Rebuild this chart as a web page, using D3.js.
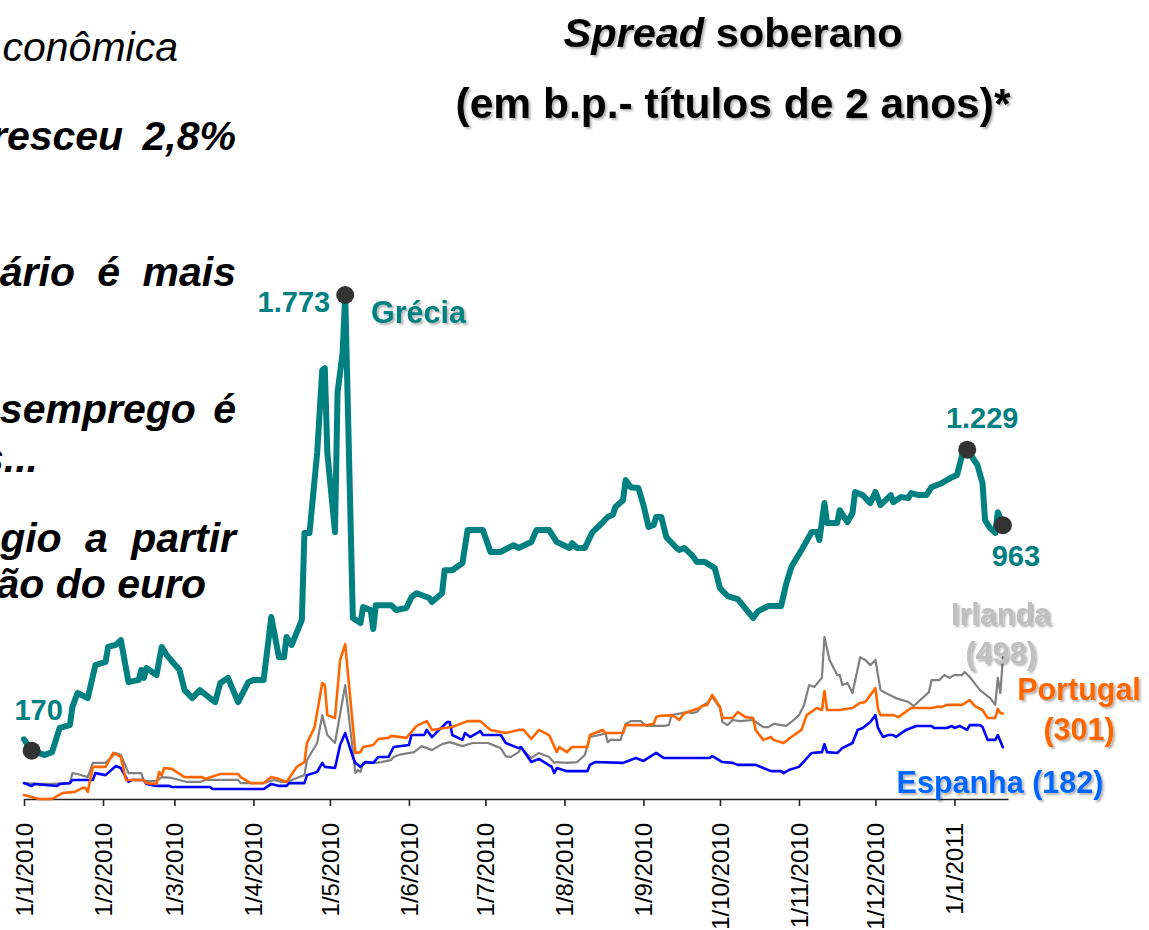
<!DOCTYPE html>
<html>
<head>
<meta charset="utf-8">
<script src="https://cdn.jsdelivr.net/npm/d3@7"></script>
<style>
  body { margin: 0; background: #fff; }
  svg { display: block; font-family: "Liberation Sans", Arial, sans-serif; }
</style>
</head>
<body>
<div id="chart"></div>
<script>
// Spread soberano (b.p., titulos de 2 anos)
const grecia = [
  ["2010-01-01", 210], ["2010-01-04", 170], ["2010-01-09", 155], ["2010-01-12", 165], ["2010-01-15", 250],
  ["2010-01-19", 260], ["2010-01-20", 324], ["2010-01-22", 373], ["2010-01-26", 355], ["2010-01-29", 471],
  ["2010-02-02", 482], ["2010-02-03", 535], ["2010-02-06", 542], ["2010-02-08", 559], ["2010-02-11", 411],
  ["2010-02-15", 419], ["2010-02-16", 454], ["2010-02-17", 426], ["2010-02-18", 461], ["2010-02-22", 436],
  ["2010-02-24", 535], ["2010-02-26", 506], ["2010-03-03", 454], ["2010-03-05", 383], ["2010-03-08", 355],
  ["2010-03-11", 383], ["2010-03-17", 341], ["2010-03-19", 408], ["2010-03-22", 426], ["2010-03-26", 341],
  ["2010-03-30", 411], ["2010-04-01", 419], ["2010-04-05", 419], ["2010-04-08", 640], ["2010-04-11", 499],
  ["2010-04-13", 499], ["2010-04-14", 570], ["2010-04-16", 542], ["2010-04-20", 630], ["2010-04-21", 936],
  ["2010-04-23", 936], ["2010-04-26", 1217], ["2010-04-28", 1509], ["2010-04-29", 1516], ["2010-04-30", 1217],
  ["2010-05-03", 939], ["2010-05-04", 1430], ["2010-05-05", 1500], ["2010-05-06", 1570], ["2010-05-07", 1773],
  ["2010-05-10", 637], ["2010-05-13", 619], ["2010-05-14", 675], ["2010-05-17", 665], ["2010-05-18", 598],
  ["2010-05-19", 682], ["2010-05-25", 682], ["2010-05-27", 665], ["2010-05-31", 672], ["2010-06-02", 710],
  ["2010-06-04", 724], ["2010-06-09", 707], ["2010-06-10", 693], ["2010-06-14", 724], ["2010-06-15", 805],
  ["2010-06-18", 805], ["2010-06-22", 830], ["2010-06-24", 946], ["2010-06-30", 946], ["2010-07-03", 869],
  ["2010-07-07", 869], ["2010-07-12", 893], ["2010-07-14", 883], ["2010-07-19", 904], ["2010-07-21", 946],
  ["2010-07-26", 946], ["2010-07-29", 904], ["2010-08-03", 883], ["2010-08-04", 900], ["2010-08-06", 883],
  ["2010-08-09", 883], ["2010-08-12", 939], ["2010-08-15", 964], ["2010-08-18", 992], ["2010-08-20", 1000],
  ["2010-08-21", 1027], ["2010-08-24", 1051], ["2010-08-25", 1122], ["2010-08-27", 1097], ["2010-08-30", 1094],
  ["2010-09-01", 1034], ["2010-09-03", 957], ["2010-09-05", 964], ["2010-09-06", 992], ["2010-09-08", 992],
  ["2010-09-10", 921], ["2010-09-14", 883], ["2010-09-15", 876], ["2010-09-17", 883], ["2010-09-20", 858],
  ["2010-09-22", 834], ["2010-09-25", 834], ["2010-09-29", 812], ["2010-10-01", 742], ["2010-10-04", 714],
  ["2010-10-08", 703], ["2010-10-14", 637], ["2010-10-16", 661], ["2010-10-20", 679], ["2010-10-25", 679],
  ["2010-10-27", 757], ["2010-10-29", 816], ["2010-11-02", 876], ["2010-11-06", 939], ["2010-11-08", 939],
  ["2010-11-09", 911], ["2010-11-11", 1041], ["2010-11-12", 971], ["2010-11-16", 971], ["2010-11-17", 1016],
  ["2010-11-20", 974], ["2010-11-22", 1006], ["2010-11-23", 1080], ["2010-11-26", 1069], ["2010-11-29", 1041],
  ["2010-12-01", 1080], ["2010-12-03", 1034], ["2010-12-07", 1069], ["2010-12-08", 1044], ["2010-12-11", 1062],
  ["2010-12-14", 1059], ["2010-12-15", 1076], ["2010-12-18", 1069], ["2010-12-21", 1069], ["2010-12-23", 1097],
  ["2010-12-27", 1111], ["2010-12-31", 1132], ["2011-01-02", 1140], ["2011-01-04", 1210], ["2011-01-06", 1229],
  ["2011-01-10", 1175], ["2011-01-12", 1111], ["2011-01-13", 981], ["2011-01-15", 953], ["2011-01-17", 936],
  ["2011-01-18", 1009], ["2011-01-20", 963]
];

const irlanda = [
  ["2010-01-01", 56], ["2010-01-07", 53], ["2010-01-12", 53], ["2010-01-19", 56], ["2010-01-20", 91],
  ["2010-01-22", 88], ["2010-01-26", 77], ["2010-01-28", 127], ["2010-02-02", 127], ["2010-02-06", 162],
  ["2010-02-08", 155], ["2010-02-11", 91], ["2010-02-16", 91], ["2010-02-17", 63], ["2010-02-22", 63],
  ["2010-02-24", 77], ["2010-02-28", 74], ["2010-03-06", 60], ["2010-03-11", 60], ["2010-03-13", 67],
  ["2010-03-26", 67], ["2010-03-27", 56], ["2010-04-05", 56], ["2010-04-09", 67], ["2010-04-12", 60],
  ["2010-04-14", 60], ["2010-04-18", 74], ["2010-04-21", 84], ["2010-04-22", 137], ["2010-04-26", 197],
  ["2010-04-28", 295], ["2010-04-30", 225], ["2010-05-03", 197], ["2010-05-07", 401], ["2010-05-11", 91],
  ["2010-05-12", 102], ["2010-05-13", 95], ["2010-05-14", 127], ["2010-05-19", 127], ["2010-05-21", 130],
  ["2010-05-25", 137], ["2010-05-26", 148], ["2010-05-28", 155], ["2010-06-03", 165], ["2010-06-06", 186],
  ["2010-06-10", 172], ["2010-06-14", 193], ["2010-06-17", 200], ["2010-06-22", 186], ["2010-06-26", 197],
  ["2010-07-02", 197], ["2010-07-07", 179], ["2010-07-09", 150], ["2010-07-11", 148], ["2010-07-14", 165],
  ["2010-07-15", 179], ["2010-07-19", 144], ["2010-07-22", 162], ["2010-07-26", 148], ["2010-07-28", 127],
  ["2010-07-29", 130], ["2010-08-02", 127], ["2010-08-06", 130], ["2010-08-09", 155], ["2010-08-11", 218],
  ["2010-08-15", 225], ["2010-08-17", 232], ["2010-08-18", 200], ["2010-08-19", 208], ["2010-08-23", 208],
  ["2010-08-25", 264], ["2010-08-27", 274], ["2010-08-31", 274], ["2010-09-02", 257], ["2010-09-09", 257],
  ["2010-09-11", 260], ["2010-09-12", 295], ["2010-09-16", 302], ["2010-09-18", 306], ["2010-09-20", 302],
  ["2010-09-22", 306], ["2010-09-24", 327], ["2010-09-26", 338], ["2010-09-28", 359], ["2010-10-01", 320],
  ["2010-10-02", 271], ["2010-10-04", 260], ["2010-10-06", 278], ["2010-10-09", 274], ["2010-10-14", 278],
  ["2010-10-18", 253], ["2010-10-20", 253], ["2010-10-22", 264], ["2010-10-27", 257], ["2010-10-29", 271],
  ["2010-11-01", 295], ["2010-11-03", 331], ["2010-11-05", 401], ["2010-11-07", 394], ["2010-11-10", 426],
  ["2010-11-11", 570], ["2010-11-13", 489], ["2010-11-16", 436], ["2010-11-17", 436], ["2010-11-18", 401],
  ["2010-11-20", 408], ["2010-11-22", 373], ["2010-11-25", 499], ["2010-11-27", 489], ["2010-11-29", 471],
  ["2010-12-01", 489], ["2010-12-03", 383], ["2010-12-05", 373], ["2010-12-09", 355], ["2010-12-14", 341],
  ["2010-12-16", 327], ["2010-12-22", 376], ["2010-12-23", 418], ["2010-12-26", 418], ["2010-12-28", 436],
  ["2010-12-30", 426], ["2011-01-01", 436], ["2011-01-04", 436], ["2011-01-05", 447], ["2011-01-07", 429],
  ["2011-01-11", 383], ["2011-01-15", 355], ["2011-01-17", 331], ["2011-01-18", 426], ["2011-01-19", 373],
  ["2011-01-20", 498]
];

const portugal = [
  ["2010-01-01", 14], ["2010-01-07", 0], ["2010-01-12", 0], ["2010-01-16", 21], ["2010-01-21", 25],
  ["2010-01-24", 39], ["2010-01-25", 39], ["2010-01-26", 25], ["2010-01-28", 113], ["2010-02-02", 113],
  ["2010-02-05", 162], ["2010-02-08", 148], ["2010-02-10", 67], ["2010-02-17", 67], ["2010-02-18", 56],
  ["2010-02-22", 53], ["2010-02-23", 95], ["2010-02-24", 84], ["2010-02-25", 109], ["2010-02-28", 106],
  ["2010-03-05", 77], ["2010-03-12", 77], ["2010-03-13", 70], ["2010-03-19", 88], ["2010-03-26", 88],
  ["2010-03-27", 77], ["2010-03-31", 56], ["2010-04-05", 56], ["2010-04-08", 77], ["2010-04-11", 70],
  ["2010-04-14", 60], ["2010-04-18", 113], ["2010-04-21", 130], ["2010-04-22", 197], ["2010-04-25", 253],
  ["2010-04-28", 408], ["2010-04-29", 401], ["2010-04-30", 295], ["2010-05-03", 285], ["2010-05-05", 489],
  ["2010-05-07", 545], ["2010-05-11", 162], ["2010-05-13", 165], ["2010-05-14", 183], ["2010-05-18", 190],
  ["2010-05-20", 211], ["2010-05-24", 215], ["2010-05-25", 222], ["2010-05-31", 215], ["2010-06-04", 257],
  ["2010-06-08", 274], ["2010-06-10", 243], ["2010-06-15", 250], ["2010-06-18", 253], ["2010-06-24", 274],
  ["2010-06-29", 274], ["2010-07-03", 243], ["2010-07-07", 236], ["2010-07-09", 232], ["2010-07-14", 243],
  ["2010-07-16", 243], ["2010-07-19", 211], ["2010-07-22", 243], ["2010-07-26", 225], ["2010-07-29", 165],
  ["2010-07-30", 183], ["2010-08-02", 165], ["2010-08-04", 183], ["2010-08-10", 183], ["2010-08-11", 225],
  ["2010-08-16", 243], ["2010-08-17", 232], ["2010-08-24", 232], ["2010-08-25", 260], ["2010-09-02", 260],
  ["2010-09-05", 264], ["2010-09-06", 288], ["2010-09-07", 292], ["2010-09-12", 295], ["2010-09-14", 285],
  ["2010-09-15", 278], ["2010-09-17", 302], ["2010-09-23", 320], ["2010-09-24", 327], ["2010-09-26", 331],
  ["2010-09-28", 366], ["2010-10-01", 324], ["2010-10-02", 285], ["2010-10-06", 285], ["2010-10-08", 306],
  ["2010-10-11", 288], ["2010-10-14", 285], ["2010-10-15", 243], ["2010-10-18", 208], ["2010-10-21", 218],
  ["2010-10-22", 208], ["2010-10-26", 197], ["2010-10-29", 218], ["2010-11-02", 243], ["2010-11-04", 295],
  ["2010-11-08", 320], ["2010-11-10", 313], ["2010-11-11", 380], ["2010-11-12", 313], ["2010-11-17", 313],
  ["2010-11-22", 320], ["2010-11-25", 338], ["2010-11-27", 341], ["2010-12-01", 390], ["2010-12-02", 317],
  ["2010-12-03", 295], ["2010-12-08", 295], ["2010-12-10", 288], ["2010-12-15", 320], ["2010-12-23", 320],
  ["2010-12-25", 324], ["2010-12-27", 324], ["2010-12-29", 331], ["2011-01-04", 331], ["2011-01-07", 348],
  ["2011-01-09", 327], ["2011-01-12", 313], ["2011-01-14", 285], ["2011-01-17", 285], ["2011-01-18", 317],
  ["2011-01-19", 302], ["2011-01-20", 301]
];

const espanha = [
  ["2010-01-01", 56], ["2010-01-04", 46], ["2010-01-05", 53], ["2010-01-14", 46], ["2010-01-15", 53],
  ["2010-01-19", 56], ["2010-01-20", 67], ["2010-01-28", 67], ["2010-01-29", 91], ["2010-02-02", 84],
  ["2010-02-06", 116], ["2010-02-08", 109], ["2010-02-11", 60], ["2010-02-12", 67], ["2010-02-17", 67],
  ["2010-02-18", 53], ["2010-02-22", 46], ["2010-02-27", 46], ["2010-02-28", 42], ["2010-03-15", 42],
  ["2010-03-16", 35], ["2010-04-05", 35], ["2010-04-08", 53], ["2010-04-11", 46], ["2010-04-14", 46],
  ["2010-04-15", 56], ["2010-04-21", 56], ["2010-04-22", 84], ["2010-04-26", 95], ["2010-04-28", 127],
  ["2010-04-29", 113], ["2010-05-03", 109], ["2010-05-05", 190], ["2010-05-07", 232], ["2010-05-10", 148],
  ["2010-05-11", 127], ["2010-05-13", 113], ["2010-05-15", 130], ["2010-05-18", 127], ["2010-05-20", 148],
  ["2010-05-24", 148], ["2010-05-26", 183], ["2010-06-01", 190], ["2010-06-02", 225], ["2010-06-07", 225],
  ["2010-06-08", 243], ["2010-06-10", 218], ["2010-06-16", 271], ["2010-06-17", 271], ["2010-06-18", 225],
  ["2010-06-22", 208], ["2010-06-23", 232], ["2010-06-25", 218], ["2010-06-29", 239], ["2010-06-30", 225],
  ["2010-07-07", 225], ["2010-07-09", 197], ["2010-07-14", 179], ["2010-07-15", 183], ["2010-07-19", 130],
  ["2010-07-22", 141], ["2010-07-27", 113], ["2010-07-28", 91], ["2010-07-29", 109], ["2010-08-02", 98],
  ["2010-08-10", 98], ["2010-08-11", 120], ["2010-08-13", 130], ["2010-08-24", 127], ["2010-08-29", 144],
  ["2010-09-01", 134], ["2010-09-06", 162], ["2010-09-09", 144], ["2010-09-16", 144], ["2010-09-22", 144],
  ["2010-09-27", 144], ["2010-09-28", 151], ["2010-10-02", 130], ["2010-10-06", 127], ["2010-10-08", 120],
  ["2010-10-15", 120], ["2010-10-18", 109], ["2010-10-21", 98], ["2010-10-25", 98], ["2010-10-26", 91],
  ["2010-10-28", 102], ["2010-11-01", 113], ["2010-11-06", 162], ["2010-11-10", 165], ["2010-11-11", 193],
  ["2010-11-12", 165], ["2010-11-16", 162], ["2010-11-18", 179], ["2010-11-22", 197], ["2010-11-24", 243],
  ["2010-11-26", 250], ["2010-11-29", 271], ["2010-12-01", 295], ["2010-12-02", 250], ["2010-12-04", 218],
  ["2010-12-06", 225], ["2010-12-08", 225], ["2010-12-09", 218], ["2010-12-13", 243], ["2010-12-17", 257],
  ["2010-12-23", 257], ["2010-12-24", 250], ["2010-12-29", 250], ["2010-12-31", 257], ["2011-01-01", 250],
  ["2011-01-03", 257], ["2011-01-06", 243], ["2011-01-07", 260], ["2011-01-11", 260], ["2011-01-12", 253],
  ["2011-01-14", 208], ["2011-01-17", 208], ["2011-01-18", 225], ["2011-01-20", 182]
];

const tickDates = ["2010-01-01", "2010-02-01", "2010-03-01", "2010-04-01", "2010-05-01", "2010-06-01",
  "2010-07-01", "2010-08-01", "2010-09-01", "2010-10-01", "2010-11-01", "2010-12-01", "2011-01-01"];
const tickLabels = ["1/1/2010", "1/2/2010", "1/3/2010", "1/4/2010", "1/5/2010", "1/6/2010",
  "1/7/2010", "1/8/2010", "1/9/2010", "1/10/2010", "1/11/2010", "1/12/2010", "1/1/2011"];

// pontos destacados na serie da Grecia
const destaques = ["2010-01-04", "2010-05-07", "2011-01-06", "2011-01-20"];
const destaqueTextos = ["170", "1.773", "1.229", "963"];

const parseDate = d3.timeParse("%Y-%m-%d");
const toPoints = arr => arr.map(d => ({date: parseDate(d[0]), value: d[1]}));

const width = 1149, height = 930;
const svg = d3.select("#chart").append("svg")
  .attr("width", width)
  .attr("height", height);

svg.append("rect").attr("width", width).attr("height", height).attr("fill", "#fff");

const defs = svg.append("defs");
defs.append("filter").attr("id", "shadow")
  .attr("x", "-10%").attr("y", "-20%").attr("width", "130%").attr("height", "150%")
  .append("feDropShadow")
  .attr("dx", 2).attr("dy", 2).attr("stdDeviation", 1)
  .attr("flood-color", "#000").attr("flood-opacity", 0.3);

// texto do slide (cortado a esquerda, como no original)
const left = svg.append("g");
left.append("text").attr("x", 178).attr("y", 61).attr("text-anchor", "end")
  .style("font-size", "41px").style("font-style", "italic").text("conômica");
const leftBold = [
  {t: "resceu 2,8%", y: 150, x: 236, ws: 8},
  {t: "ário é mais", y: 286, x: 236, ws: 11},
  {t: "semprego é", y: 423, x: 236, ws: 6},
  {t: "s...", y: 472, x: 38, ws: 0},
  {t: "gio a partir", y: 552, x: 236, ws: 12},
  {t: "ão do euro", y: 598, x: 206, ws: 0}
];
left.selectAll("text.b").data(leftBold).enter().append("text")
  .attr("class", "b")
  .attr("x", d => d.x).attr("y", d => d.y)
  .attr("text-anchor", "end")
  .style("font-size", "41px").style("font-weight", "bold").style("font-style", "italic")
  .style("word-spacing", d => d.ws + "px")
  .text(d => d.t);

// titulo
const title = svg.append("text")
  .attr("x", 733).attr("y", 47)
  .attr("text-anchor", "middle")
  .attr("filter", "url(#shadow)")
  .style("font-size", "41.5px").style("font-weight", "bold");
title.append("tspan").style("font-style", "italic").text("Spread");
title.append("tspan").text(" soberano");

svg.append("text")
  .attr("x", 733).attr("y", 118)
  .attr("text-anchor", "middle")
  .attr("filter", "url(#shadow)")
  .style("font-size", "42.5px").style("font-weight", "bold")
  .text("(em b.p.- títulos de 2 anos)*");

// escalas
const xScale = d3.scaleTime()
  .domain([parseDate("2010-01-01"), parseDate("2011-01-22")])
  .range([24, 1008]);
const yScale = d3.scaleLinear()
  .domain([0, 1773])
  .range([799, 295]);

// eixo x
const axis = svg.append("g")
  .attr("transform", "translate(0,799)")
  .call(d3.axisBottom(xScale)
    .tickValues(tickDates.map(parseDate))
    .tickSize(7)
    .tickSizeOuter(0)
    .tickFormat(""));
axis.select(".domain").attr("stroke", "#222").attr("stroke-width", 1.6);
axis.selectAll(".tick line").attr("stroke", "#222").attr("stroke-width", 1.6);

svg.append("g").selectAll("text")
  .data(tickDates.map((d, i) => ({date: parseDate(d), label: tickLabels[i]})))
  .enter().append("text")
  .attr("transform", d => `translate(${xScale(d.date) + 9},823) rotate(-90)`)
  .attr("text-anchor", "end")
  .style("font-size", "24px")
  .attr("fill", "#000")
  .text(d => d.label);

// linhas
const line = d3.line()
  .x(d => xScale(d.date))
  .y(d => yScale(d.value));

const series = [
  {data: irlanda, color: "#808080", w: 2.2},
  {data: espanha, color: "#0000ff", w: 2.6},
  {data: portugal, color: "#ff6600", w: 2.6},
  {data: grecia, color: "#008080", w: 6}
];
series.forEach(s => {
  svg.append("path")
    .datum(toPoints(s.data))
    .attr("fill", "none")
    .attr("stroke", s.color)
    .attr("stroke-width", s.w)
    .attr("stroke-linejoin", "round")
    .attr("stroke-linecap", "round")
    .attr("d", line);
});

// pontos destacados
const gPts = toPoints(grecia);
const fmt = d3.timeFormat("%Y-%m-%d");
const marcados = destaques.map((d, i) => {
  const p = gPts.find(q => fmt(q.date) === d);
  return {date: p.date, value: p.value, label: destaqueTextos[i]};
});
const offsets = [
  {dx: 7, dy: -31, anchor: "middle"},
  {dx: -15, dy: 17, anchor: "end"},
  {dx: 15, dy: -22, anchor: "middle"},
  {dx: 13, dy: 41, anchor: "middle"}
];
svg.selectAll(".dot").data(marcados).enter().append("circle")
  .attr("cx", d => xScale(d.date))
  .attr("cy", d => yScale(d.value))
  .attr("r", 9)
  .attr("fill", "#333");
svg.selectAll(".lbl").data(marcados).enter().append("text")
  .attr("x", (d, i) => xScale(d.date) + offsets[i].dx)
  .attr("y", (d, i) => yScale(d.value) + offsets[i].dy)
  .attr("text-anchor", (d, i) => offsets[i].anchor)
  .attr("fill", "#008080")
  .style("font-size", "29px").style("font-weight", "bold")
  .text(d => d.label);

// rotulos das series
const rotulos = [
  {t: "Grécia", x: 371, y: 323, c: "#008080", a: "start"},
  {t: "Irlanda", x: 1001, y: 625, c: "#bfbfbf", a: "middle"},
  {t: "(498)", x: 1001, y: 664, c: "#bfbfbf", a: "middle"},
  {t: "Portugal", x: 1079, y: 700, c: "#ff6600", a: "middle"},
  {t: "(301)", x: 1079, y: 740, c: "#ff6600", a: "middle"},
  {t: "Espanha (182)", x: 1000, y: 793, c: "#0066ff", a: "middle"}
];
svg.selectAll(".serie").data(rotulos).enter().append("text")
  .attr("x", d => d.x).attr("y", d => d.y)
  .attr("text-anchor", d => d.a)
  .attr("fill", d => d.c)
  .attr("filter", "url(#shadow)")
  .style("font-size", "30.5px").style("font-weight", "bold")
  .text(d => d.t);
</script>
</body>
</html>
